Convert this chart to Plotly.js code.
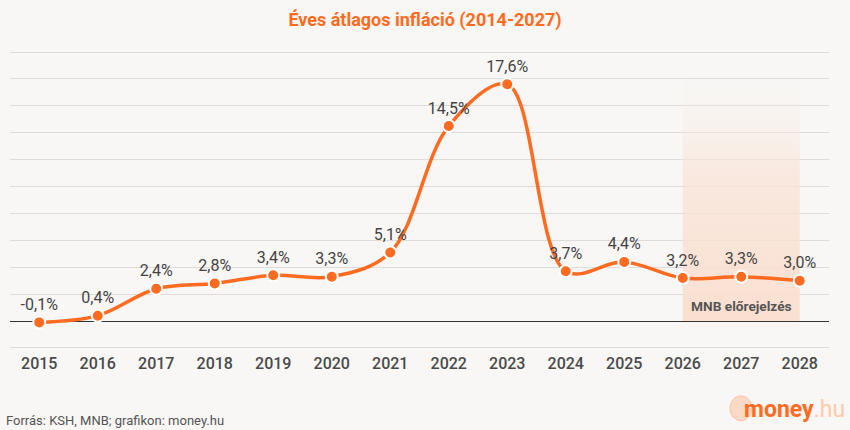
<!DOCTYPE html>
<html>
<head>
<meta charset="utf-8">
<script src="https://cdn.plot.ly/plotly-3.0.1.min.js"></script>
<style>html,body{margin:0;padding:0;background:#f8f7f5;}#chart{width:850px;height:430px;}</style>
</head>
<body>
<div id="chart"></div>
<script>
const years = ['2015','2016','2017','2018','2019','2020','2021','2022','2023','2024','2025','2026','2027','2028'];
const inflation = [-0.1, 0.4, 2.4, 2.8, 3.4, 3.3, 5.1, 14.5, 17.6, 3.7, 4.4, 3.2, 3.3, 3.0];
const valueLabels = ['-0,1%','0,4%','2,4%','2,8%','3,4%','3,3%','5,1%','14,5%','17,6%','3,7%','4,4%','3,2%','3,3%','3,0%'];
const forecastYears = ['2026','2028'];
const forecastMid = '2027';
const forecastTop = 18;
const forecastLabel = 'MNB előrejelzés';
const titleText = 'Éves átlagos infláció (2014-2027)';
const sourceText = 'Forrás: KSH, MNB; grafikon: money.hu';

const orange = '#ff6b21';

const shade = {
  x: [forecastYears[0], forecastYears[1], forecastYears[1], forecastYears[0], forecastYears[0]],
  y: [0, 0, forecastTop, forecastTop, 0],
  type: 'scatter', mode: 'none', fill: 'toself',
  fillgradient: {type: 'vertical', colorscale: [[0, 'rgba(250,222,206,0.95)'], [0.6, 'rgba(250,226,213,0.7)'], [1, 'rgba(248,240,235,0.1)']]},
  hoverinfo: 'skip', showlegend: false
};

const line = {
  x: years, y: inflation, text: valueLabels,
  type: 'scatter', mode: 'lines+markers+text',
  line: {color: orange, width: 3.5, shape: 'spline', smoothing: 1},
  marker: {color: orange, size: 12, line: {color: '#ffffff', width: 2}},
  textposition: 'top center',
  textfont: {family: 'Roboto', size: 16, color: '#444444'},
  cliponaxis: false, showlegend: false, hoverinfo: 'skip'
};

const layout = {
  width: 850, height: 430,
  paper_bgcolor: '#f8f7f5', plot_bgcolor: '#f8f7f5',
  margin: {l: 10, r: 21, t: 48, b: 78},
  title: {text: titleText, x: 0.5, xanchor: 'center', y: 0.955, yanchor: 'middle',
          font: {family: 'Roboto', size: 18, color: orange, weight: 700}},
  xaxis: {type: 'category', categoryorder: 'array', categoryarray: years, range: [-0.5, 13.5],
          showgrid: false, showline: false, zeroline: false,
          ticks: '', tickfont: {family: 'Roboto', size: 16, color: '#4a4a4a', weight: 500}, fixedrange: true},
  yaxis: {range: [-2.3, 20.3], dtick: 2, tick0: 0, showticklabels: false, showgrid: true,
          gridcolor: '#dedcd9', gridwidth: 1, zeroline: true, zerolinecolor: '#333333', zerolinewidth: 1, fixedrange: true},
  annotations: [
    {x: years.indexOf(forecastMid), y: 1.1, xref: 'x', yref: 'y', xanchor: 'center', yanchor: 'middle',
     text: '<b>' + forecastLabel + '</b>', showarrow: false,
     font: {family: 'Roboto', size: 13.7, color: '#555555'}},
    {x: -0.007, y: -0.224, xref: 'paper', yref: 'paper', xanchor: 'left', yanchor: 'middle', text: sourceText, showarrow: false,
     font: {family: 'Roboto', size: 13, color: '#555555'}},
    {x: 1.022, y: -0.19, xref: 'paper', yref: 'paper', xanchor: 'right', yanchor: 'middle',
     text: '<b>money</b><span style="color:#ffc9ab">.hu</span>', showarrow: false,
     font: {family: 'Roboto', size: 23, color: orange}}
  ],
  shapes: [
    {type: 'circle', xref: 'paper', yref: 'paper', x0: 0.879, x1: 0.906, y0: -0.226, y1: -0.144,
     fillcolor: 'rgba(255,196,166,0.6)', line: {color: 'rgba(255,175,135,0.6)', width: 1}, layer: 'above'}
  ]
};

Plotly.newPlot('chart', [shade, line], layout, {displayModeBar: false, staticPlot: true});
</script>
</body>
</html>
